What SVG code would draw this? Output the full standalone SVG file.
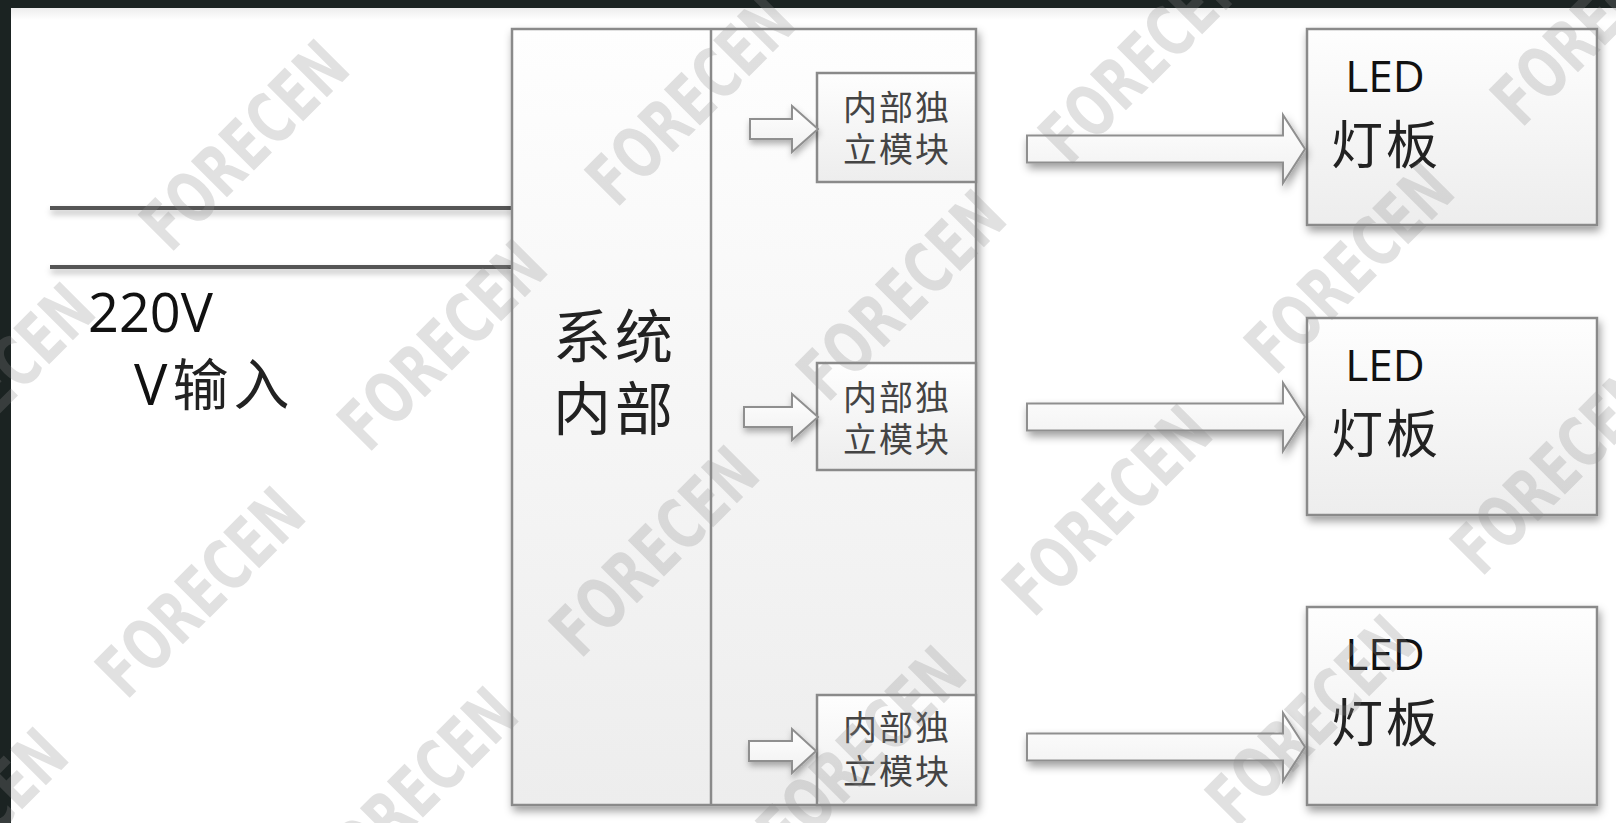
<svg xmlns="http://www.w3.org/2000/svg" width="1616" height="823" viewBox="0 0 1616 823">
<defs>
<style>
.box{stroke:#8a8a8a;stroke-width:2.5;}
.arrow{fill:url(#gArrow);stroke:#8f8f8f;stroke-width:2;stroke-linejoin:miter;}
.wire{stroke:#555;stroke-width:4;fill:none;}
.lat{font-family:"Open Sans","Liberation Sans",sans-serif;fill:#111;}
.cjk{font-family:"Noto Sans CJK SC","Noto Sans CJK JP",sans-serif;fill:#222;}
.mod{font-family:"Noto Sans CJK SC",sans-serif;fill:#444;font-size:34px;letter-spacing:2px;text-anchor:middle;}
.wm{font-family:"DejaVu Sans",sans-serif;font-weight:bold;font-stretch:condensed;font-size:70px;fill:#8c8c8c;fill-opacity:0.26;text-anchor:middle;}
</style>
<linearGradient id="gBox" x1="0" y1="0" x2="0" y2="1">
<stop offset="0" stop-color="#fefefe"/>
<stop offset="1" stop-color="#ededed"/>
</linearGradient>
<linearGradient id="gArrow" x1="0" y1="0" x2="0" y2="1">
<stop offset="0" stop-color="#ffffff"/>
<stop offset="1" stop-color="#f0f0f0"/>
</linearGradient>
<linearGradient id="gTop" x1="0" y1="0" x2="0" y2="1">
<stop offset="0" stop-color="#ededed"/>
<stop offset="1" stop-color="#ffffff"/>
</linearGradient>
<filter id="shadow" x="-10%" y="-10%" width="130%" height="130%">
<feDropShadow dx="2" dy="5" stdDeviation="4" flood-color="#000" flood-opacity="0.38"/>
</filter>
<filter id="shadowS" x="-20%" y="-40%" width="140%" height="200%">
<feDropShadow dx="1" dy="4" stdDeviation="3" flood-color="#000" flood-opacity="0.3"/>
</filter>
</defs>

<rect x="0" y="0" width="1616" height="823" fill="#ffffff"/>
<rect x="11" y="8" width="1605" height="12" fill="url(#gTop)"/>
<rect x="0" y="0" width="1616" height="8" fill="#1b2322"/>
<rect x="0" y="0" width="11" height="823" fill="#1b2322"/>

<g id="input-wires" filter="url(#shadowS)">
<line class="wire" x1="50" y1="208" x2="512" y2="208"/>
<line class="wire" x1="50" y1="267" x2="512" y2="267"/>
</g>
<g id="input-label">
<text class="lat" x="88" y="332" font-size="54">220V</text>
<text class="lat" x="134" y="405" font-size="56" letter-spacing="5">V<tspan class="cjk" fill="#222">输入</tspan></text>
</g>

<g id="system">
<rect class="box" x="512" y="29" width="464" height="776" fill="url(#gBox)" filter="url(#shadow)"/>
<line x1="711" y1="29" x2="711" y2="805" stroke="#8a8a8a" stroke-width="2.5"/>
<text class="cjk" font-size="58" text-anchor="middle" letter-spacing="4"><tspan x="615" y="358">系统</tspan><tspan x="615" y="430">内部</tspan></text>
</g>

<g id="module1">
<rect class="box" x="817" y="73" width="159" height="109" fill="url(#gBox)"/>
<text class="mod"><tspan x="897" y="120">内部独</tspan><tspan x="897" y="162">立模块</tspan></text>
</g>
<g id="module2">
<rect class="box" x="817" y="363" width="159" height="107" fill="url(#gBox)"/>
<text class="mod"><tspan x="897" y="410">内部独</tspan><tspan x="897" y="452">立模块</tspan></text>
</g>
<g id="module3">
<rect class="box" x="817" y="695" width="159" height="110" fill="url(#gBox)"/>
<text class="mod"><tspan x="897" y="740">内部独</tspan><tspan x="897" y="784">立模块</tspan></text>
</g>

<g id="led1">
<rect class="box" x="1307" y="29" width="290" height="196" fill="url(#gBox)" filter="url(#shadow)"/>
<text class="lat" x="1385" y="92" font-size="44" text-anchor="middle">LED</text>
<text class="cjk" x="1386" y="164" font-size="52" text-anchor="middle" letter-spacing="3">灯板</text>
</g>
<g id="led2">
<rect class="box" x="1307" y="318" width="290" height="197" fill="url(#gBox)" filter="url(#shadow)"/>
<text class="lat" x="1385" y="381" font-size="44" text-anchor="middle">LED</text>
<text class="cjk" x="1386" y="453" font-size="52" text-anchor="middle" letter-spacing="3">灯板</text>
</g>
<g id="led3">
<rect class="box" x="1307" y="607" width="290" height="198" fill="url(#gBox)" filter="url(#shadow)"/>
<text class="lat" x="1385" y="670" font-size="44" text-anchor="middle">LED</text>
<text class="cjk" x="1386" y="742" font-size="52" text-anchor="middle" letter-spacing="3">灯板</text>
</g>

<g id="connectors">
<g filter="url(#shadowS)">
<polygon class="arrow" points="750,119 792,119 792,106 818,129 792,152 792,139 750,139"/>
<polygon class="arrow" points="744,407 792,407 792,394 818,417 792,440 792,427 744,427"/>
<polygon class="arrow" points="749,741 792,741 792,729 816,751 792,773 792,761 749,761"/>
</g>
<g filter="url(#shadow)">
<polygon class="arrow" points="1027,135.5 1283,135.5 1283,115 1305,149 1283,183 1283,162.5 1027,162.5"/>
<polygon class="arrow" points="1027,403.5 1283,403.5 1283,383 1305,417 1283,451 1283,430.5 1027,430.5"/>
<polygon class="arrow" points="1027,733.5 1283,733.5 1283,713 1305,747 1283,781 1283,760.5 1027,760.5"/>
</g>
</g>

<g id="watermarks">
<text class="wm" textLength="258" lengthAdjust="spacingAndGlyphs" transform="translate(244,145) rotate(-45)" y="25">FORECEN</text>
<text class="wm" textLength="258" lengthAdjust="spacingAndGlyphs" transform="translate(690,100) rotate(-45)" y="25">FORECEN</text>
<text class="wm" textLength="258" lengthAdjust="spacingAndGlyphs" transform="translate(1143,58) rotate(-45)" y="25">FORECEN</text>
<text class="wm" textLength="258" lengthAdjust="spacingAndGlyphs" transform="translate(1595,20) rotate(-45)" y="25">FORECEN</text>
<text class="wm" textLength="258" lengthAdjust="spacingAndGlyphs" transform="translate(-10,388) rotate(-45)" y="25">FORECEN</text>
<text class="wm" textLength="258" lengthAdjust="spacingAndGlyphs" transform="translate(442,345) rotate(-45)" y="25">FORECEN</text>
<text class="wm" textLength="258" lengthAdjust="spacingAndGlyphs" transform="translate(901,295) rotate(-45)" y="25">FORECEN</text>
<text class="wm" textLength="258" lengthAdjust="spacingAndGlyphs" transform="translate(1349,268) rotate(-45)" y="25">FORECEN</text>
<text class="wm" textLength="258" lengthAdjust="spacingAndGlyphs" transform="translate(200,592) rotate(-45)" y="25">FORECEN</text>
<text class="wm" textLength="258" lengthAdjust="spacingAndGlyphs" transform="translate(654,551) rotate(-45)" y="25">FORECEN</text>
<text class="wm" textLength="258" lengthAdjust="spacingAndGlyphs" transform="translate(1107,510) rotate(-45)" y="25">FORECEN</text>
<text class="wm" textLength="258" lengthAdjust="spacingAndGlyphs" transform="translate(1555,469) rotate(-45)" y="25">FORECEN</text>
<text class="wm" textLength="258" lengthAdjust="spacingAndGlyphs" transform="translate(-37,833) rotate(-45)" y="25">FORECEN</text>
<text class="wm" textLength="258" lengthAdjust="spacingAndGlyphs" transform="translate(413,792) rotate(-45)" y="25">FORECEN</text>
<text class="wm" textLength="258" lengthAdjust="spacingAndGlyphs" transform="translate(861,751) rotate(-45)" y="25">FORECEN</text>
<text class="wm" textLength="258" lengthAdjust="spacingAndGlyphs" transform="translate(1310,720) rotate(-45)" y="25">FORECEN</text>
</g>
</svg>
